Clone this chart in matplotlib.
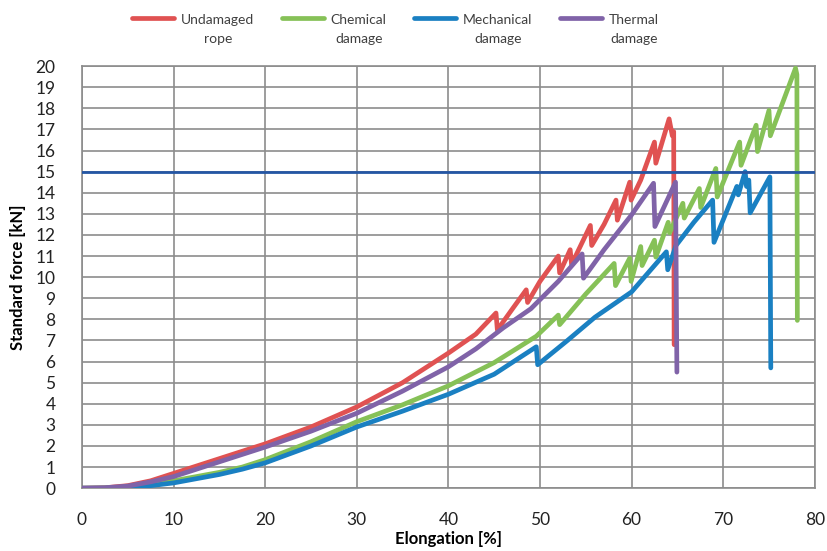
import matplotlib
matplotlib.use("Agg")
import numpy as np
import matplotlib.pyplot as plt
from matplotlib.legend_handler import HandlerLine2D

plt.rcParams['font.family'] = ['Lato', 'DejaVu Sans']

# elongation [%] / standard force [kN]
undamaged_x = [0, 2.5, 5, 7.5, 10, 12.5, 15, 17.5, 20, 25, 30, 35, 40, 43, 45.2, 45.35,
               47, 48.5, 48.65, 50, 52.0, 52.15, 53.3, 53.45, 55.5, 55.65, 57, 58.3, 58.45,
               59.8, 59.95, 61, 62.5, 62.65, 64.1, 64.45, 64.6, 64.65]
undamaged_y = [0, 0.02, 0.12, 0.35, 0.7, 1.05, 1.4, 1.75, 2.1, 2.9, 3.85, 5.0, 6.4, 7.3, 8.3, 7.5,
               8.5, 9.4, 8.8, 9.8, 11.0, 10.2, 11.3, 10.6, 12.45, 11.5, 12.5, 13.65, 12.7,
               14.5, 13.65, 14.6, 16.4, 15.4, 17.5, 16.7, 16.9, 6.8]

chemical_x = [0, 2.5, 5, 7.5, 10, 12.5, 15, 17.5, 20, 25, 30, 35, 40, 45, 49.6, 52.0, 52.15,
              55, 58.1, 58.25, 59.8, 59.95, 61.0, 61.15, 62.5, 62.65, 64.0, 64.15, 65.6, 65.75,
              67.4, 67.55, 69.2, 69.35, 71.8, 71.95, 73.6, 73.75, 75.0, 75.15, 77.9, 78.05, 78.1]
chemical_y = [0, 0.01, 0.05, 0.18, 0.35, 0.55, 0.75, 1.0, 1.35, 2.2, 3.15, 3.95, 4.85, 5.95, 7.2,
              8.2, 7.75, 9.2, 10.65, 9.6, 10.9, 9.8, 11.45, 10.55, 11.75, 10.95, 12.6, 12.1,
              13.5, 12.8, 14.2, 13.3, 15.15, 13.8, 16.4, 15.3, 17.2, 15.95, 17.9, 16.7, 19.9,
              19.6, 7.95]

mechanical_x = [0, 2.5, 5, 7.5, 10, 12.5, 15, 17.5, 20, 25, 30, 35, 40, 45, 49.6, 49.75, 53,
                56, 60, 63.8, 63.95, 64.85, 66.8, 68.85, 69.0, 71.5, 71.65, 72.4, 72.55, 72.8,
                72.95, 75.1, 75.2]
mechanical_y = [0, 0.0, 0.03, 0.12, 0.25, 0.45, 0.65, 0.9, 1.2, 2.0, 2.9, 3.65, 4.45, 5.4, 6.7,
                5.85, 7.0, 8.1, 9.3, 11.2, 10.35, 11.5, 12.6, 13.65, 11.65, 14.3, 13.9, 15.0,
                14.3, 14.6, 13.05, 14.75, 5.7]

thermal_x = [0, 2.5, 5, 7.5, 10, 12.5, 15, 17.5, 20, 25, 30, 35, 40, 43, 46, 49, 52, 54.6,
             54.75, 57, 60, 62.4, 62.55, 64.8, 64.95]
thermal_y = [0, 0.02, 0.1, 0.3, 0.55, 0.9, 1.25, 1.6, 1.95, 2.7, 3.55, 4.6, 5.75, 6.6, 7.6, 8.5,
             9.8, 11.1, 9.95, 11.3, 12.95, 14.45, 12.4, 14.5, 5.5]

series = [
    ("Undamaged\nrope", undamaged_x, undamaged_y, "#e05252"),
    ("Chemical\ndamage", chemical_x, chemical_y, "#86c157"),
    ("Mechanical\ndamage", mechanical_x, mechanical_y, "#1a80c2"),
    ("Thermal\ndamage", thermal_x, thermal_y, "#8063a8"),
]
limit_force = 15


class TopLineHandler(HandlerLine2D):
    # legend swatch sits level with the first line of a two-line label
    def create_artists(self, legend, orig_handle, xdescent, ydescent, width, height,
                       fontsize, trans):
        arts = super().create_artists(legend, orig_handle, xdescent, ydescent, width,
                                      height, fontsize, trans)
        for a in arts:
            a.set_ydata(np.asarray(a.get_ydata()) + 0.8 * fontsize)
        return arts


fig = plt.figure(figsize=(8.28, 5.51), dpi=100)
ax = fig.add_axes([0.099, 0.114, 0.885, 0.766])

for label, xs, ys, col in series:
    ax.plot(xs, ys, color=col, lw=3.4, label=label, solid_joinstyle="round",
            solid_capstyle="round", zorder=3)
ax.axhline(limit_force, color="#2456a4", lw=2, zorder=4)

ax.set_xlim(0, 80)
ax.set_ylim(0, 20)
ax.set_xticks(range(0, 81, 10))
ax.set_yticks(range(0, 21))
ax.grid(True, color="#8c8c8c", lw=1.2, zorder=0)
for s in ax.spines.values():
    s.set_color("#8c8c8c")
    s.set_linewidth(1.2)
ax.tick_params(axis="x", length=0, pad=17, labelsize=12.5, labelcolor="#222222")
ax.tick_params(axis="y", length=0, pad=19, labelsize=12.5, labelcolor="#222222")

ax.set_xlabel("Elongation [%]", fontsize=12, fontweight="bold", labelpad=2)
ax.set_ylabel("Standard force [kN]", fontsize=12, fontweight="bold", labelpad=7)

leg = ax.legend(loc="lower center", bbox_to_anchor=(0.428, 1.037), ncol=4, frameon=False,
                fontsize=10, handlelength=3.0, handletextpad=0.5, columnspacing=2.0,
                borderaxespad=0.0, handler_map={plt.Line2D: TopLineHandler()})
for t in leg.get_texts():
    t.set_color("#404040")
    t.set_ha("center")
    t.set_linespacing(1.7)

fig.savefig("out.png", dpi=100)
